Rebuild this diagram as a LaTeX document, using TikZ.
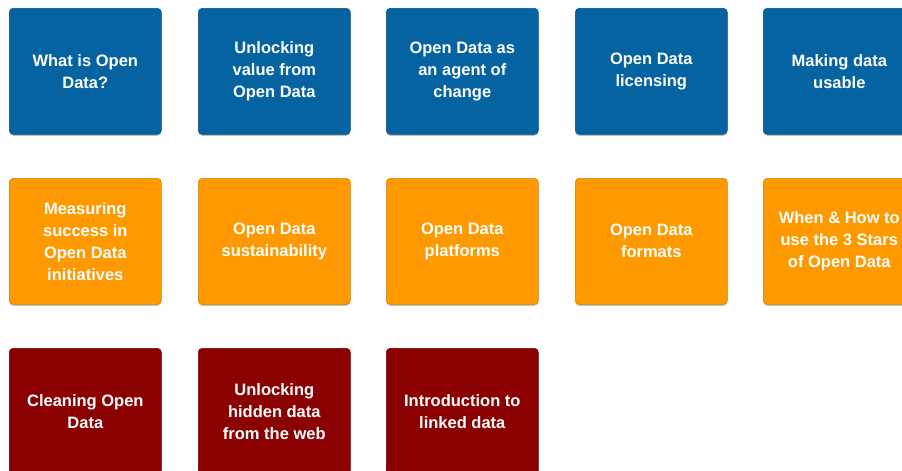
\documentclass[tikz,border=0pt]{standalone}
\usepackage{fontspec}
\setmainfont{Liberation Sans}
\usetikzlibrary{shadows}
\definecolor{odblue}{RGB}{5,99,161}
\definecolor{odorange}{RGB}{255,153,0}
\definecolor{odred}{RGB}{139,0,0}
\tikzset{
  tile/.style={rectangle, rounded corners=4pt, minimum width=152pt, minimum height=126pt,
    anchor=north west, text=white, align=center, inner sep=0pt,
    font=\fontsize{16.5pt}{22pt}\selectfont\bfseries,
    drop shadow={shadow xshift=0pt, shadow yshift=-1.5pt, opacity=0.25, fill=black}},
  bluetile/.style={tile, fill=odblue, draw=odblue!85!black, line width=0.6pt},
  orangetile/.style={tile, fill=odorange, draw=odorange!85!black, line width=0.6pt},
  redtile/.style={tile, fill=odred, draw=odred!85!black, line width=0.6pt}
}
\begin{document}
\begin{tikzpicture}[x=1pt,y=-1pt]
\useasboundingbox (0,0) rectangle (902,471);
\fill[white] (0,0) rectangle (902,471);
% row 1
\node[bluetile] (b1) at (9,8) {What is Open\\Data?};
\node[bluetile] (b2) at (198,8) {Unlocking\\value from\\Open Data};
\node[bluetile] (b3) at (386,8) {Open Data as\\an agent of\\change};
\node[bluetile] (b4) at (575,8) {Open Data\\licensing};
\node[bluetile] (b5) at (763,8) {Making data\\usable};
% row 2
\node[orangetile] (o1) at (9,178) {Measuring\\success in\\Open Data\\initiatives};
\node[orangetile] (o2) at (198,178) {Open Data\\sustainability};
\node[orangetile] (o3) at (386,178) {Open Data\\platforms};
\node[orangetile] (o4) at (575,178) {Open Data\\formats};
\node[orangetile] (o5) at (763,178) {When \& How to\\use the 3 Stars\\of Open Data};
% row 3
\node[redtile] (r1) at (9,348) {Cleaning Open\\Data};
\node[redtile] (r2) at (198,348) {Unlocking\\hidden data\\from the web};
\node[redtile] (r3) at (386,348) {Introduction to\\linked data};
\end{tikzpicture}
\end{document}
